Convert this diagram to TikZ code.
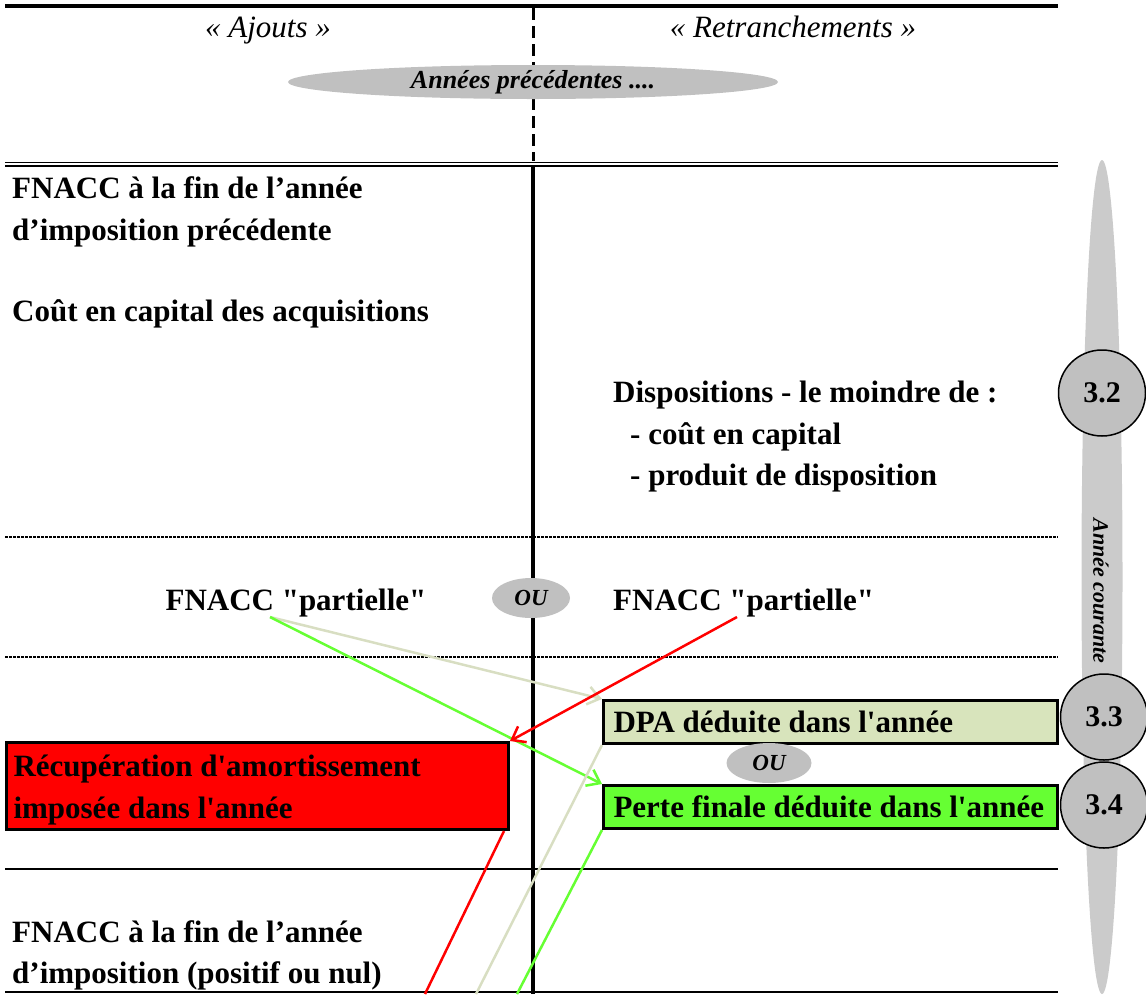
\documentclass[tikz,border=0pt]{standalone}
\usepackage{fontspec}
\setmainfont{Liberation Serif}
\usetikzlibrary{shapes.geometric,arrows.meta}

\definecolor{dpavert}{HTML}{D8E4BC}
\definecolor{dpatrait}{HTML}{D8DEC2}
\definecolor{vertvif}{HTML}{66FF33}
\definecolor{grisbulle}{HTML}{C0C0C0}
\definecolor{grisclair}{HTML}{CBCBCB}

\tikzset{
  texte/.style={anchor=base west, inner sep=0pt, font=\fontsize{31}{42}\selectfont\bfseries},
  entete/.style={anchor=base, inner sep=0pt, font=\fontsize{31}{42}\selectfont\itshape},
  bulle/.style={ellipse, fill=grisbulle, inner sep=0pt, font=\fontsize{23}{28}\selectfont\bfseries\itshape},
  numero/.style={ellipse, draw, line width=1.5pt, fill=grisbulle, minimum width=87pt, minimum height=86pt,
    inner sep=0pt, font=\fontsize{30}{36}\selectfont\bfseries},
  casier/.style={draw, line width=3pt, anchor=north west, inner xsep=10pt, inner ysep=0pt, align=flush left,
    text depth=0pt, font=\fontsize{31}{42}\selectfont\bfseries},
  fleche/.style={line width=2.5pt, -{Straight Barb[length=12pt,width=18pt]}},
  trait/.style={line width=2.5pt}
}

\begin{document}
\begin{tikzpicture}[x=1pt,y=-1pt]
  \useasboundingbox (0,0) rectangle (1146,994);
  \def\milieu{533}
  \def\droite{1058}

  \draw[line width=4pt] (5,6) -- (\droite,6);
  \draw[line width=3pt, dash pattern=on 12pt off 6pt] (\milieu,8) -- (\milieu,161);
  \draw[line width=1.6pt] (5,162.5) -- (\droite,162.5);
  \draw[line width=1.6pt] (5,166) -- (\droite,166);
  \draw[line width=4pt] (\milieu,167) -- (\milieu,994);
  \foreach \y in {537,657} {
    \draw[line width=1.4pt, dash pattern=on 3pt off 1pt] (5,\y) -- (\droite,\y);
  }
  \draw[line width=1.6pt] (5,869) -- (\droite,869);
  \draw[line width=1.6pt] (5,992) -- (\droite,992);

  \node[entete] (ajouts) at (268,37) {« Ajouts »};
  \node[entete] (retranch) at (793,37) {« Retranchements »};
  \node[bulle, minimum width=490pt, minimum height=34pt, font=\fontsize{26}{30}\selectfont\bfseries\itshape]
    (anterieur) at (\milieu,82) {Années précédentes ....};

  \node[texte] (debut1) at (12,198) {FNACC à la fin de l’année};
  \node[texte] (debut2) at (12,240) {d’imposition précédente};
  \node[texte] (acquis) at (12,321) {Coût en capital des acquisitions};
  \node[texte] (dispo) at (613,402) {Dispositions - le moindre de :};
  \node[texte] (dispo1) at (630,444) {- coût en capital};
  \node[texte] (dispo2) at (630,485) {- produit de disposition};

  \node[texte, anchor=base] (partL) at (296,610) {FNACC \textquotedbl partielle\textquotedbl};
  \node[bulle, minimum width=78pt, minimum height=40pt] (ouL) at (531,598) {OU};
  \node[texte] (partR) at (613,610) {FNACC \textquotedbl partielle\textquotedbl};

  \node[casier, fill=dpavert, text width=434pt, minimum height=43pt] (dpa) at (602,699)
    {DPA déduite dans l\textquotesingle année};
  \node[bulle, minimum width=85pt, minimum height=40pt] (ouM) at (769,763) {OU};
  \node[casier, fill=vertvif, text width=434pt, minimum height=43pt] (perte) at (602,784)
    {Perte finale déduite dans l\textquotesingle année};
  \node[casier, fill=red, inner xsep=7pt, text width=488pt, minimum height=87pt, text depth=40pt] (recup) at (5,741)
    {Récupération d\textquotesingle amortissement\\imposée dans l\textquotesingle année};

  \node[texte] (fin1) at (12,942) {FNACC à la fin de l’année};
  \node[texte] (fin2) at (12,983) {d’imposition (positif ou nul)};

  \node[ellipse, fill=grisclair, minimum width=41pt, minimum height=834pt, inner sep=0pt] (courante) at (1102,577) {};
  \node[rotate=-90, inner sep=0pt, font=\fontsize{22}{26}\selectfont\bfseries\itshape] (courantetxt) at (1101,591)
    {Année courante};
  \foreach \i/\x/\y in {2/1102/393, 3/1104/717, 4/1104/805} {
    \node[numero] (etape\i) at (\x,\y) {3.\i};
  }

  \coordinate (srcL) at (270,617);
  \coordinate (srcR) at (737,617);
  \coordinate (basR) at (425,994);
  \coordinate (basD) at (476,994);
  \coordinate (basP) at (517,994);
  \draw[fleche, dpatrait] (srcL) -- (dpa.north west);
  \draw[fleche, vertvif] (srcL) -- (perte.north west);
  \draw[fleche, red] (srcR) -- (recup.north east);
  \draw[trait, red] ([xshift=-6pt]recup.south east) -- (basR);
  \draw[trait, dpatrait] (dpa.south west) -- (basD);
  \draw[trait, vertvif] (perte.south west) -- (basP);
\end{tikzpicture}
\end{document}
